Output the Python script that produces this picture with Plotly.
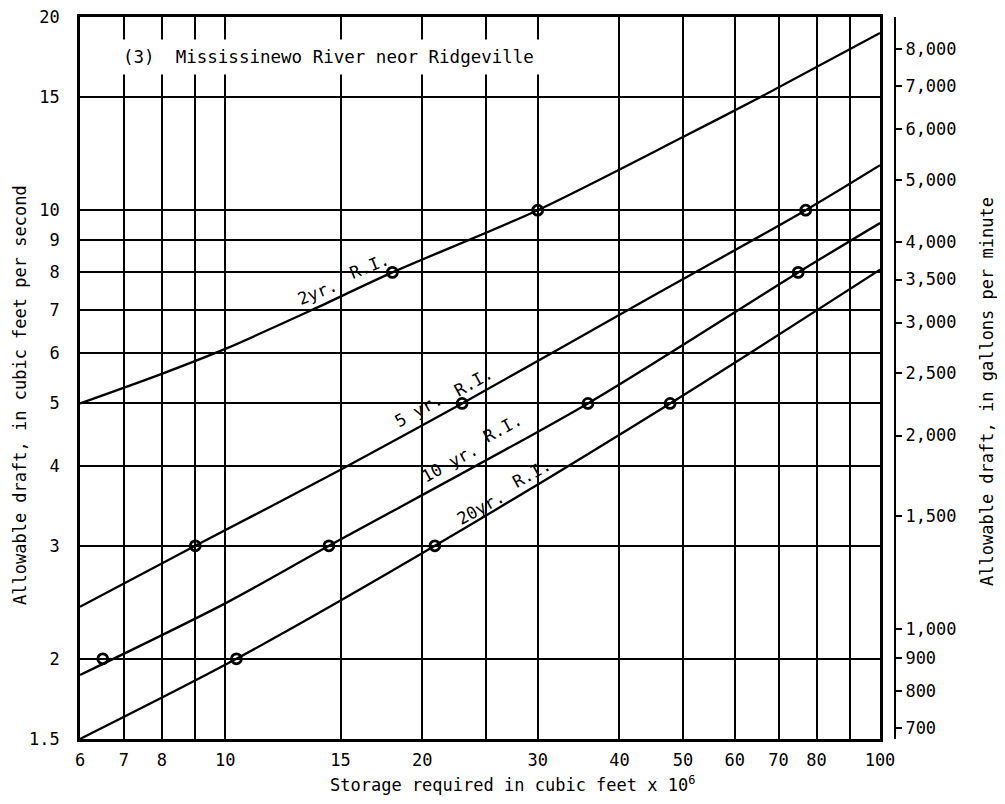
import math
import plotly.graph_objects as go

# ---- data ----
GPM_PER_CFS = 448.83  # gallons per minute in one cubic foot per second

# storage (cubic feet x 10^6) vs allowable draft (cfs) for each recurrence interval
x_2yr = [6, 8, 10, 13.6, 18, 30, 50, 65.6, 100]
y_2yr = [5.0, 5.56, 6.08, 7.0, 8.0, 10.0, 13.0, 15.0, 18.88]

x_5yr = [6, 9, 15, 23, 44, 77, 100]
y_5yr = [2.41, 3.0, 3.94, 5.0, 7.26, 10.0, 11.75]

x_10yr = [6, 10, 14.4, 35.8, 75, 100]
y_10yr = [1.887, 2.44, 3.0, 5.0, 8.0, 9.55]

x_20yr = [6, 10.4, 20.9, 47.8, 100]
y_20yr = [1.5, 2.0, 3.0, 5.0, 8.08]

# plotted (circled) points on each curve
pts_2yr_x, pts_2yr_y = [18, 30], [8, 10]
pts_5yr_x, pts_5yr_y = [9, 23, 77], [3, 5, 10]
pts_10yr_x, pts_10yr_y = [6.5, 14.4, 35.8, 75], [2, 3, 5, 8]
pts_20yr_x, pts_20yr_y = [10.4, 20.9, 47.8], [2, 3, 5]

# axis ticks
x_grid = [6, 7, 8, 9, 10, 15, 20, 25, 30, 40, 50, 60, 70, 80, 90, 100]
x_labels = ["6", "7", "8", "", "10", "15", "20", "", "30", "40", "50", "60", "70", "80", "", "100"]
y_grid = [1.5, 2, 3, 4, 5, 6, 7, 8, 9, 10, 15, 20]
y_labels = ["1.5", "2", "3", "4", "5", "6", "7", "8", "9", "10", "15", "20"]
gpm_ticks = [700, 800, 900, 1000, 1500, 2000, 2500, 3000, 3500, 4000, 5000, 6000, 7000, 8000]
gpm_labels = ["700", "800", "900", "1,000", "1,500", "2,000", "2,500", "3,000", "3,500",
              "4,000", "5,000", "6,000", "7,000", "8,000"]

X_MIN, X_MAX = 6, 100
Y_MIN, Y_MAX = 1.5, 20

FONT = "DejaVu Sans Mono"

fig = go.Figure()

curves = [
    (x_2yr, y_2yr, pts_2yr_x, pts_2yr_y),
    (x_5yr, y_5yr, pts_5yr_x, pts_5yr_y),
    (x_10yr, y_10yr, pts_10yr_x, pts_10yr_y),
    (x_20yr, y_20yr, pts_20yr_x, pts_20yr_y),
]
for cx, cy, px_, py_ in curves:
    fig.add_trace(go.Scatter(x=cx, y=cy, mode="lines",
                             line=dict(color="black", width=2.3, shape="spline", smoothing=0.8),
                             showlegend=False, hoverinfo="skip"))
    fig.add_trace(go.Scatter(x=px_, y=py_, mode="markers",
                             marker=dict(symbol="circle-open", size=10, color="black",
                                         line=dict(color="black", width=2.8)),
                             showlegend=False, hoverinfo="skip"))

# same 2-yr curve expressed in gallons per minute, on the right axis (invisible, keeps axis drawn)
fig.add_trace(go.Scatter(x=x_2yr, y=[v * GPM_PER_CFS for v in y_2yr], yaxis="y2", mode="lines",
                         line=dict(width=0, color="rgba(0,0,0,0)"), opacity=0,
                         showlegend=False, hoverinfo="skip"))

# curve labels (rotated along the lines)
curve_labels = [
    ("2yr.", 13.85, 7.46, -22),
    ("R.I.", 16.6, 8.18, -22),
    ("5 yr.", 19.76, 4.88, -29),
    ("R.I.", 23.9, 5.40, -29),
    ("10 yr.", 22.0, 4.04, -29),
    ("R.I.", 26.5, 4.58, -29),
    ("20yr.", 24.5, 3.44, -29),
    ("R.I.", 29.4, 3.90, -29),
]
annotations = []
for txt, lx, ly, ang in curve_labels:
    annotations.append(dict(text=txt, x=math.log10(lx), y=math.log10(ly), xref="x", yref="y",
                            showarrow=False, textangle=ang, font=dict(family=FONT, size=17, color="black"),
                            xanchor="center", yanchor="middle"))

# page layout: plot area spans x 80..880 and y 17..739 in the page; paper width reaches the right axis at 895
PX_L, PX_R, PY_T, PY_B = 80, 895, 17, 739
def px(xp):
    return (xp - PX_L) / (PX_R - PX_L)
def py(yp):
    return (PY_B - yp) / (PY_B - PY_T)

# panel title inside plot with white background
annotations.append(dict(text="(3)\u00a0\u00a0Mississinewo River neor Ridgeville", xref="paper", yref="paper",
                        x=px(115), y=py(57), xanchor="left", yanchor="middle",
                        showarrow=False, bgcolor="white", borderpad=7,
                        font=dict(family=FONT, size=17.5, color="black")))

# axis titles
annotations.append(dict(text="Allowable draft, in cubic feet per second", xref="paper", yref="paper",
                        x=px(20), y=py(395), textangle=-90, showarrow=False,
                        xanchor="center", yanchor="middle", font=dict(family=FONT, size=17, color="black")))
annotations.append(dict(text="Allowable draft, in gallons per minute", xref="paper", yref="paper",
                        x=px(987), y=py(392), textangle=-90, showarrow=False,
                        xanchor="center", yanchor="middle", font=dict(family=FONT, size=17, color="black")))
annotations.append(dict(text="Storage required in cubic feet x 10<sup>6</sup>", xref="paper", yref="paper",
                        x=px(512), y=py(784), showarrow=False,
                        xanchor="center", yanchor="middle", font=dict(family=FONT, size=17, color="black")))

# the page body adds an 8px offset, so the figure is 8px smaller and shifted
BODY = 8
W, H = 1005 - BODY, 804 - BODY
fig.update_layout(
    width=W, height=H, autosize=False,
    margin=dict(l=PX_L - BODY, r=W - (PX_R - BODY), t=PY_T - BODY, b=H - (PY_B - BODY), pad=0),
    paper_bgcolor="white", plot_bgcolor="white",
    font=dict(family=FONT, size=17, color="black"),
    annotations=annotations,
    xaxis=dict(type="log", range=[math.log10(X_MIN), math.log10(X_MAX)], domain=[0, 800 / 815],
               tickvals=x_grid, ticktext=x_labels, ticks="", ticklabelstandoff=4, automargin=False,
               ticklabeloverflow="allow",
               showgrid=True, gridcolor="black", gridwidth=1.6,
               showline=True, linecolor="black", linewidth=2.6, mirror=True, zeroline=False,
               tickfont=dict(family=FONT, size=17)),
    yaxis=dict(type="log", range=[math.log10(Y_MIN), math.log10(Y_MAX)],
               tickvals=y_grid, ticktext=y_labels, ticks="", ticklabelstandoff=14, automargin=False,
               ticklabeloverflow="allow",
               showgrid=True, gridcolor="black", gridwidth=1.6,
               showline=True, linecolor="black", linewidth=2.6, mirror=True, zeroline=False,
               tickfont=dict(family=FONT, size=17)),
    yaxis2=dict(type="log", overlaying="y", anchor="free", position=1.0, side="right",
                range=[math.log10(Y_MIN * GPM_PER_CFS), math.log10(Y_MAX * GPM_PER_CFS)],
                tickvals=gpm_ticks, ticktext=gpm_labels, ticks="outside", ticklen=6, tickwidth=1.5,
                tickcolor="black", showgrid=False, showline=True, linecolor="black", linewidth=2,
                zeroline=False, automargin=False, ticklabeloverflow="allow",
                tickfont=dict(family=FONT, size=17)),
)

fig.write_html("out.html")
